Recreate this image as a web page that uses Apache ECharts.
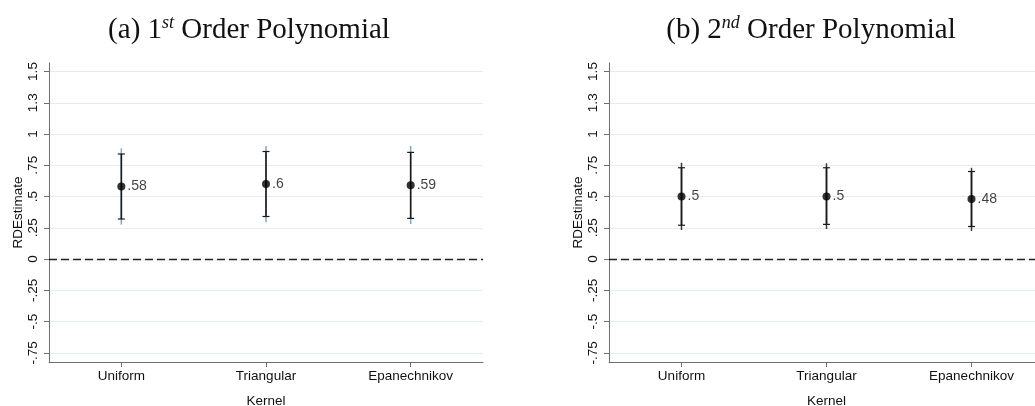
<!DOCTYPE html>
<html>
<head>
<meta charset="utf-8">
<script src="https://cdn.jsdelivr.net/npm/echarts@6/dist/echarts.min.js"></script>
<style>
  html, body { margin: 0; padding: 0; background: #fff; }
  #chart { width: 1035px; height: 406px; }
</style>
</head>
<body>
<div id="chart"></div>
<script>
// Kernel choices on the x axis
const kernels = ['Uniform', 'Triangular', 'Epanechnikov'];

// (a) first-order polynomial: point estimates and confidence bounds
const estA = [0.58, 0.60, 0.59];
const ci90LowA = [0.32, 0.34, 0.325];
const ci90HighA = [0.84, 0.86, 0.853];
const ci95LowA = [0.275, 0.295, 0.28];
const ci95HighA = [0.885, 0.905, 0.904];

// (b) second-order polynomial: point estimates and confidence bounds
const estB = [0.50, 0.50, 0.48];
const ci90LowB = [0.27, 0.277, 0.26];
const ci90HighB = [0.73, 0.73, 0.70];
const ci95LowB = [0.232, 0.24, 0.224];
const ci95HighB = [0.77, 0.766, 0.73];

// Y tick positions and their printed labels (Stata-style formatting)
const yTickValues = [-0.75, -0.5, -0.25, 0, 0.25, 0.5, 0.75, 1, 1.25, 1.5];
const yTickLabels = ['-.75', '-.5', '-.25', '0', '.25', '.5', '.75', '1', '1.3', '1.5'];

const sansFont = '"Liberation Sans", Arial, Helvetica, sans-serif';
const serifFont = '"Liberation Serif", "Times New Roman", Times, serif';
const axisGray = '#6f6f6f';

function fmtEst(v) {
  return String(v).replace(/^0\./, '.').replace(/^-0\./, '-.');
}

function yAxisFor(gridIndex) {
  return {
    type: 'value',
    gridIndex: gridIndex,
    min: -0.824,
    max: 1.568,
    name: 'RDEstimate',
    nameLocation: 'middle',
    nameGap: 24,
    nameRotate: 90,
    nameTextStyle: { fontFamily: sansFont, fontSize: 13.5, color: '#111' },
    axisLine: { show: true, onZero: false, lineStyle: { color: axisGray, width: 1 } },
    axisTick: { show: true, length: 5, lineStyle: { color: axisGray }, customValues: yTickValues },
    axisLabel: {
      rotate: 90,
      margin: 9,
      fontFamily: sansFont,
      fontSize: 13.5,
      color: '#111',
      customValues: yTickValues,
      formatter: function (v) {
        const i = yTickValues.findIndex(t => Math.abs(t - v) < 1e-6);
        return i >= 0 ? yTickLabels[i] : '';
      }
    },
    splitLine: { show: true, lineStyle: { color: '#e4edf0', width: 1 } }
  };
}

function xAxisFor(gridIndex) {
  return {
    type: 'category',
    gridIndex: gridIndex,
    data: kernels,
    boundaryGap: true,
    name: 'Kernel',
    nameLocation: 'middle',
    nameGap: 32,
    nameTextStyle: { fontFamily: sansFont, fontSize: 13.5, color: '#111' },
    axisLine: { show: true, onZero: false, lineStyle: { color: axisGray, width: 1 } },
    axisTick: { show: true, alignWithLabel: true, length: 5, lineStyle: { color: axisGray } },
    axisLabel: { fontFamily: sansFont, fontSize: 13.5, color: '#111', margin: 7 },
    splitLine: { show: false }
  };
}

function intervalSeries(axisIndex, lo95, hi95, lo90, hi90, outerColor) {
  const data = kernels.map((k, i) => [i, lo95[i], hi95[i], lo90[i], hi90[i]]);
  return {
    type: 'custom',
    xAxisIndex: axisIndex,
    yAxisIndex: axisIndex,
    data: data,
    encode: { x: 0, y: [1, 2, 3, 4] },
    z: 2,
    renderItem: function (params, api) {
      const xi = api.value(0);
      const p95lo = api.coord([xi, api.value(1)]);
      const p95hi = api.coord([xi, api.value(2)]);
      const p90lo = api.coord([xi, api.value(3)]);
      const p90hi = api.coord([xi, api.value(4)]);
      const x = p95lo[0];
      const capHalf = 3.5;
      return {
        type: 'group',
        children: [
          { type: 'line', shape: { x1: x, y1: p95lo[1], x2: x, y2: p95hi[1] },
            style: { stroke: outerColor, lineWidth: 1.5 } },
          { type: 'line', shape: { x1: x, y1: p90lo[1], x2: x, y2: p90hi[1] },
            style: { stroke: '#1a1a1a', lineWidth: 1.6 } },
          { type: 'line', shape: { x1: x - capHalf, y1: p90hi[1], x2: x + capHalf, y2: p90hi[1] },
            style: { stroke: '#1a1a1a', lineWidth: 1.2 } },
          { type: 'line', shape: { x1: x - capHalf, y1: p90lo[1], x2: x + capHalf, y2: p90lo[1] },
            style: { stroke: '#1a1a1a', lineWidth: 1.2 } }
        ]
      };
    }
  };
}

function pointSeries(axisIndex, est) {
  return {
    type: 'scatter',
    xAxisIndex: axisIndex,
    yAxisIndex: axisIndex,
    data: est.map((v, i) => [i, v]),
    symbol: 'circle',
    symbolSize: 8,
    itemStyle: { color: '#000' },
    z: 3,
    label: {
      show: true,
      position: 'right',
      distance: 2,
      fontFamily: sansFont,
      fontSize: 14,
      color: '#111',
      formatter: p => fmtEst(p.value[1])
    },
    markLine: {
      silent: true,
      symbol: 'none',
      label: { show: false },
      lineStyle: { color: '#222', type: [8, 4], width: 1.3 },
      data: [{ yAxis: 0 }]
    }
  };
}

const titleRich = {
  sup: { fontFamily: serifFont, fontSize: 18, fontStyle: 'italic', color: '#111', verticalAlign: 'top', lineHeight: 32 }
};

const chart = echarts.init(document.getElementById('chart'), null, { renderer: 'canvas' });
chart.setOption({
  backgroundColor: '#fff',
  animation: false,
  title: [
    {
      text: '(a) 1{sup|st} Order Polynomial',
      left: 244, top: 9, textAlign: 'center',
      textStyle: { fontFamily: serifFont, fontSize: 29, fontWeight: 'normal', color: '#111', lineHeight: 32, rich: titleRich }
    },
    {
      text: '(b) 2{sup|nd} Order Polynomial',
      left: 806, top: 9, textAlign: 'center',
      textStyle: { fontFamily: serifFont, fontSize: 29, fontWeight: 'normal', color: '#111', lineHeight: 32, rich: titleRich }
    }
  ],
  grid: [
    { left: 49, right: 552, top: 63, bottom: 44, outerBoundsMode: 'none' },
    { left: 609, right: -9, top: 63, bottom: 44, outerBoundsMode: 'none' }
  ],
  xAxis: [xAxisFor(0), xAxisFor(1)],
  yAxis: [yAxisFor(0), yAxisFor(1)],
  series: [
    intervalSeries(0, ci95LowA, ci95HighA, ci90LowA, ci90HighA, '#7fa6cc'),
    pointSeries(0, estA),
    intervalSeries(1, ci95LowB, ci95HighB, ci90LowB, ci90HighB, '#3a3a3a'),
    pointSeries(1, estB)
  ]
});
</script>
</body>
</html>
